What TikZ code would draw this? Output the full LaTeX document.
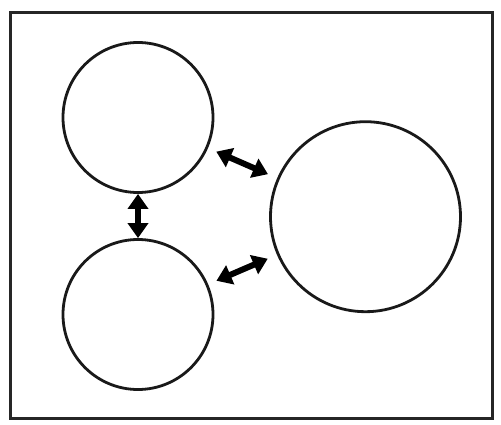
\documentclass[tikz,border=0pt]{standalone}
\usetikzlibrary{arrows.meta}
\begin{document}
\begin{tikzpicture}[x=1pt,y=-1pt,
  ring/.style={circle,draw=black!90,line width=2.8pt,inner sep=0pt},
  dbl/.style={line width=6pt,{Triangle[length=15pt,width=20pt]}-{Triangle[length=15pt,width=20pt]}}]
\useasboundingbox (0,0) rectangle (501,424);
\draw[line width=3.5pt,black!85] (10.5,12.5) rectangle (492.5,418.5);
\node[ring,minimum size=150pt] (a) at (138,117.5) {};
\node[ring,minimum size=150pt] (b) at (138,314.5) {};
\node[ring,minimum size=190pt] (c) at (365.5,216.7) {};
\draw[dbl] (a) -- (b);
\draw[dbl,shorten <=9pt,shorten >=10pt] (a) -- (c);
\draw[dbl,shorten <=9pt,shorten >=10pt] (b) -- (c);
\end{tikzpicture}
\end{document}
